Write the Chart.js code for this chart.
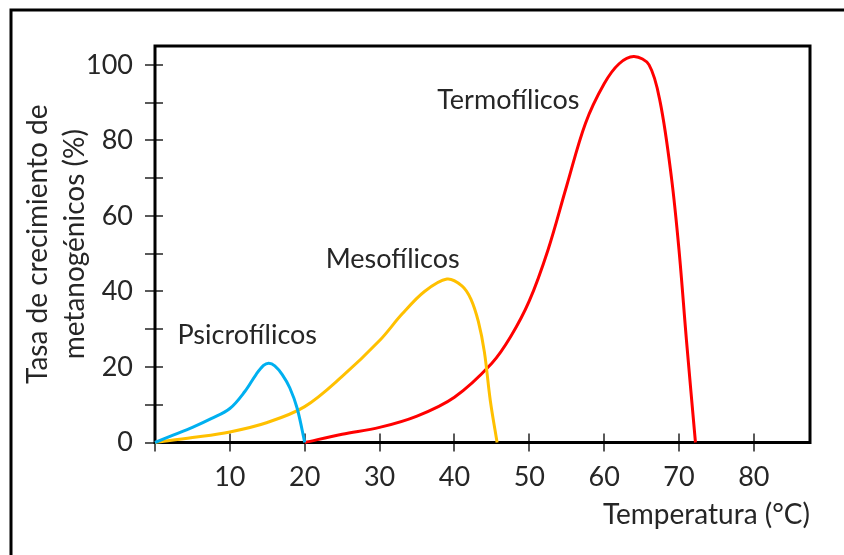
<!DOCTYPE html>
<html>
<head>
<meta charset="utf-8">
<script src="https://cdn.jsdelivr.net/npm/chart.js@4.4.1/dist/chart.umd.min.js"></script>
<style>
  html, body { margin: 0; padding: 0; background: #fff; }
  #wrap { width: 844px; height: 555px; position: relative; }
</style>
</head>
<body>
<div id="wrap"><canvas id="growthChart"></canvas></div>
<script>
// curves: temperature (°C) and growth rate (%)
const psicroTemp = [0, 2.5, 5, 7.5, 10, 12, 13.5, 14.5, 15.2, 16, 17, 18, 19, 20];
const psicroRate = [0, 2, 4, 6.3, 9, 13.5, 18, 20.4, 21, 20.3, 18, 14.5, 9, 0];

const mesoTemp = [0, 5, 10, 15, 20, 25, 30, 33, 36, 39, 41, 42.2, 43.2, 44, 44.8, 45.7];
const mesoRate = [0, 1.3, 2.8, 5.3, 9.5, 17.5, 27, 34, 40, 43.3, 41.5, 38, 32, 24, 11, 0];

const termoTemp = [20, 25, 30, 35, 40, 45, 47.5, 50, 52.5, 55, 57.5, 60, 62, 64, 66, 67.5, 69, 70, 71, 72.2];
const termoRate = [0, 2.2, 4, 7, 12, 21, 28, 37.5, 51, 68, 84.5, 95, 100.3, 102.2, 100, 90, 70, 51, 27, 0];

const xTickValues = [0, 10, 20, 30, 40, 50, 60, 70, 80];
const yTickValues = [0, 10, 20, 30, 40, 50, 60, 70, 80, 90, 100];

const curveNames = ['Psicrofílicos', 'Mesofílicos', 'Termofílicos'];
const curveColors = ['#00b0f0', '#ffc000', '#ff0000'];
// where each name sits, in chart units (left edge, middle)
const nameX = [3.0, 22.8, 37.7];
const nameY = [28.3, 48.5, 90.7];

const FONT = 'Lato';

function toPoints(xs, ys) {
    return xs.map((x, i) => ({ x: x, y: ys[i] }));
}

const growthData = {
    datasets: [
        { label: curveNames[0], data: toPoints(psicroTemp, psicroRate), borderColor: curveColors[0] },
        { label: curveNames[1], data: toPoints(mesoTemp, mesoRate), borderColor: curveColors[1] },
        { label: curveNames[2], data: toPoints(termoTemp, termoRate), borderColor: curveColors[2] },
    ]
};

// outer frame, plot box and tick marks crossing the axes
const framePlugin = {
    id: 'frame',
    beforeDatasetsDraw(chart) {
        const ctx = chart.ctx;
        const a = chart.chartArea;
        const xs = chart.scales.x;
        const ys = chart.scales.y;
        ctx.save();

        ctx.strokeStyle = '#000';
        ctx.lineWidth = 3;
        ctx.beginPath();
        ctx.moveTo(11, chart.height);
        ctx.lineTo(11, 10);
        ctx.lineTo(chart.width, 10);
        ctx.stroke();

        ctx.strokeStyle = '#595959';
        ctx.lineWidth = 2;
        ctx.beginPath();
        xTickValues.forEach(v => {
            const px = Math.round(xs.getPixelForValue(v));
            ctx.moveTo(px, a.bottom - 9);
            ctx.lineTo(px, a.bottom + 9);
        });
        yTickValues.forEach(v => {
            const py = Math.round(ys.getPixelForValue(v));
            ctx.moveTo(a.left - 10, py);
            ctx.lineTo(a.left + 8, py);
        });
        ctx.stroke();

        ctx.strokeStyle = '#000';
        ctx.lineWidth = 3;
        ctx.strokeRect(a.left, a.top, a.right - a.left, a.bottom - a.top);
        ctx.restore();
    },
    afterDatasetsDraw(chart) {
        const ctx = chart.ctx;
        ctx.save();
        ctx.fillStyle = '#262626';
        ctx.font = '27px ' + FONT;
        ctx.textAlign = 'left';
        ctx.textBaseline = 'middle';
        curveNames.forEach((name, i) => {
            ctx.fillText(name, chart.scales.x.getPixelForValue(nameX[i]), chart.scales.y.getPixelForValue(nameY[i]));
        });
        ctx.restore();
    }
};

const growthConfig = {
    type: 'line',
    data: growthData,
    options: {
        responsive: true,
        maintainAspectRatio: false,
        animation: false,
        layout: {
            padding: { left: 0, top: 46, right: 34, bottom: 0 }
        },
        elements: {
            point: { radius: 0 },
            line: { borderWidth: 3, tension: 0.35, fill: false }
        },
        datasets: {
            line: { clip: false }
        },
        scales: {
            x: {
                type: 'linear',
                min: 0,
                max: 87.5,
                afterBuildTicks: scale => { scale.ticks = xTickValues.map(v => ({ value: v })); },
                afterFit: scale => { scale.height = 112.5; },
                grid: { display: false, drawTicks: false },
                border: { display: false },
                ticks: {
                    autoSkip: false,
                    maxRotation: 0,
                    padding: 19,
                    color: '#262626',
                    font: { family: FONT, size: 27 },
                    callback: v => (v === 0 ? '' : v)
                },
                title: {
                    display: true,
                    text: 'Temperatura (°C)',
                    align: 'end',
                    color: '#262626',
                    font: { family: FONT, size: 28 },
                    padding: { top: 0, bottom: 23 }
                }
            },
            y: {
                min: 0,
                max: 105,
                afterBuildTicks: scale => { scale.ticks = yTickValues.map(v => ({ value: v })); },
                afterFit: scale => { scale.width = 155; },
                grid: { display: false, drawTicks: false },
                border: { display: false },
                ticks: {
                    autoSkip: false,
                    padding: 22,
                    color: '#262626',
                    font: { family: FONT, size: 27 },
                    callback: v => (v % 20 === 0 ? v : '')
                },
                title: {
                    display: true,
                    text: ['Tasa de crecimiento de', 'metanogénicos (%)'],
                    color: '#262626',
                    font: { family: FONT, size: 28, lineHeight: 1.3 },
                    padding: { top: 20, bottom: 0 }
                }
            }
        },
        plugins: {
            legend: { display: false },
            title: { display: false },
            tooltip: { enabled: false }
        }
    },
    plugins: [framePlugin]
};

const growthCtx = document.getElementById('growthChart').getContext('2d');
new Chart(growthCtx, growthConfig);
</script>
</body>
</html>
